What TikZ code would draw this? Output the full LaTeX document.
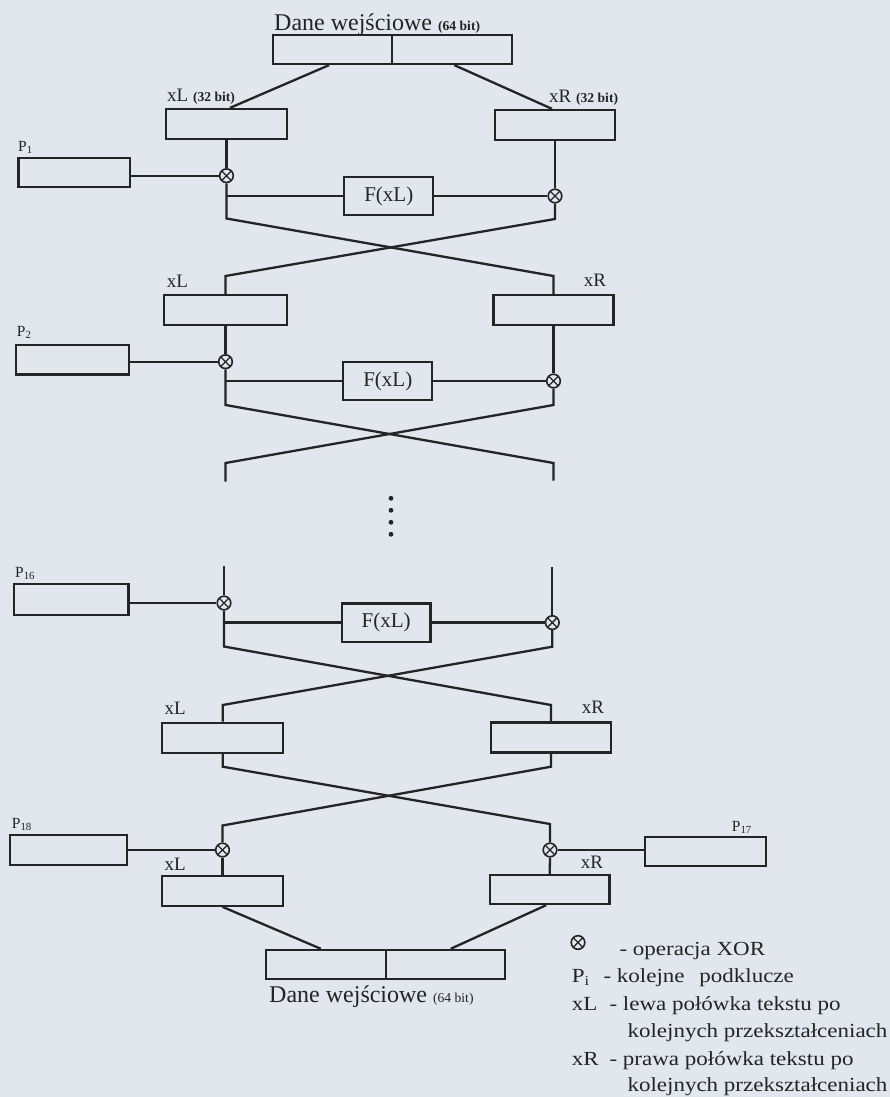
\documentclass[tikz,border=0pt]{standalone}
\usepackage{fontspec}
\setmainfont{Liberation Serif}
\newfontfamily\legendfont[FakeStretch=1.15]{Liberation Serif}
\definecolor{paper}{RGB}{226,230,237}
\definecolor{ink}{RGB}{36,36,38}
\newcommand\bitnote[1]{{\fontsize{13.6}{16}\selectfont\bfseries #1}}
\newcommand\bitnotelight[1]{{\fontsize{13.6}{16}\selectfont #1}}
\tikzset{
  wire/.style={draw=ink, line width=2.3},
  blk/.style={draw=ink, line width=2.3, rectangle, inner sep=0pt},
  xor/.style={circle, draw=ink, line width=1.6, minimum size=13.6, inner sep=0pt,
    path picture={\draw[ink, line width=1.3]
      (path picture bounding box.north west) -- (path picture bounding box.south east)
      (path picture bounding box.north east) -- (path picture bounding box.south west);}},
  lbl/.style={anchor=base west, inner sep=0pt, text=ink},
  ttl/.style={lbl, font=\fontsize{24}{28}\selectfont},
  fx/.style={font=\fontsize{21}{25}\selectfont, text=ink},
  halflbl/.style={lbl, font=\fontsize{19}{22}\selectfont},
  pkey/.style={lbl, font=\fontsize{15.5}{18}\selectfont},
  leg/.style={lbl, font=\legendfont\fontsize{20}{24}\selectfont},
}
\begin{document}
\begin{tikzpicture}[x=1pt,y=-1pt]
\path[use as bounding box, fill=paper] (0,0) rectangle (890,1097);

% ---------- input block ----------
\node[ttl] (intitle) at (274,30.7) {Dane wejściowe \bitnote{(64 bit)}};
\node[blk, minimum width=239, minimum height=29] (inbox) at (392.2,49.5) {};
\draw[wire] (inbox.north) -- (inbox.south);

% ---------- round 1 ----------
\node[blk, minimum width=121.6, minimum height=30] (xl1) at (226.5,124) {};
\node[blk, minimum width=120, minimum height=30] (xr1) at (555,125) {};
\node[halflbl] (xl1t) at (167,102) {xL \bitnote{(32 bit)}};
\node[halflbl] (xr1t) at (549,103) {xR \bitnote{(32 bit)}};
\draw[wire] ([xshift=57.5]inbox.south west) -- ([xshift=3.5]xl1.north);
\draw[wire] ([xshift=-58.5]inbox.south east) -- ([xshift=-3]xr1.north);

\node[blk, minimum width=111.7, minimum height=28.4] (p1) at (74.2,172.5) {};
\node[pkey] (p1t) at (18,151.7) {P\textsubscript{1}};
\node[xor] (xl1x) at (226.5,175.7) {};
\node[blk, fx, minimum width=89, minimum height=38] (f1) at (388.8,196) {F(xL)};
\node[xor] (xr1x) at (555,196) {};
\draw[wire] (xl1.south) -- (xl1x.north);
\draw[wire] (xr1.south) -- (xr1x.north);
\draw[wire] (p1.east |- xl1x) -- (xl1x.west);
\draw[wire] (f1.west -| xl1x) -- (f1.west);
\draw[wire] (f1.east) -- (xr1x.west);

% ---------- round 2 ----------
\node[blk, minimum width=122.4, minimum height=30] (xl2) at (225.5,310) {};
\node[blk, minimum width=120, minimum height=30] (xr2) at (553.5,310) {};
\node[halflbl] (xl2t) at (166.7,287.3) {xL};
\node[halflbl] (xr2t) at (583.6,286.7) {xR};

\coordinate (l1b) at (226.5,218.5);
\coordinate (r1b) at (555,219);
\coordinate (l2t) at (225.5,276);
\coordinate (r2t) at (553.5,276);
\draw[wire] (xl1x.south) -- (l1b) -- (r2t) -- (xr2.north);
\draw[wire] (xr1x.south) -- (r1b) -- (l2t) -- (xl2.north);

\node[blk, minimum width=113.6, minimum height=29.3] (p2) at (72.5,359.7) {};
\node[pkey] (p2t) at (16.7,336.7) {P\textsubscript{2}};
\node[xor] (xl2x) at (225.5,361.7) {};
\node[blk, fx, minimum width=89, minimum height=38] (f2) at (387.8,381) {F(xL)};
\node[xor] (xr2x) at (553.5,381) {};
\draw[wire] (xl2.south) -- (xl2x.north);
\draw[wire] (xr2.south) -- (xr2x.north);
\draw[wire] (p2.east |- xl2x) -- (xl2x.west);
\draw[wire] (f2.west -| xl2x) -- (f2.west);
\draw[wire] (f2.east) -- (xr2x.west);

\coordinate (l2b) at (225.5,405);
\coordinate (r2b) at (553.5,405);
\coordinate (l2r) at (553.5,463);
\coordinate (l2e) at (553.5,480.5);
\coordinate (r2l) at (225.5,463);
\coordinate (r2e) at (225.5,481.5);
\draw[wire] (xl2x.south) -- (l2b) -- (l2r) -- (l2e);
\draw[wire] (xr2x.south) -- (r2b) -- (r2l) -- (r2e);

% omitted rounds
\foreach \dy in {498.3,510.3,522.3,534.3}
  \fill[ink] (391,\dy) circle (2.4);

% ---------- round 16 ----------
\coordinate (l3s) at (224,566);
\coordinate (r3s) at (552.3,566.5);
\node[blk, minimum width=114.3, minimum height=31] (p16) at (71.2,599.2) {};
\node[pkey] (p16t) at (15,577.3) {P\textsubscript{16}};
\node[xor] (xl3x) at (224,603) {};
\node[blk, fx, minimum width=88.8, minimum height=38.4] (f3) at (386.1,622.6) {F(xL)};
\node[xor] (xr3x) at (552.3,622.6) {};
\draw[wire] (l3s) -- (xl3x.north);
\draw[wire] (r3s) -- (xr3x.north);
\draw[wire] (p16.east |- xl3x) -- (xl3x.west);
\draw[wire] (f3.west -| xl3x) -- (f3.west);
\draw[wire] (f3.east) -- (xr3x.west);

% ---------- final swap ----------
\node[blk, minimum width=121, minimum height=30] (xl4) at (222.8,737.7) {};
\node[blk, minimum width=120, minimum height=30] (xr4) at (551,737.5) {};
\node[halflbl] (xl4t) at (164.3,714.3) {xL};
\node[halflbl] (xr4t) at (581.7,713.3) {xR};
\coordinate (l3b) at (224,646.5);
\coordinate (r3b) at (552.3,646.7);
\coordinate (l4t) at (222.8,705);
\coordinate (r4t) at (551,705);
\draw[wire] (xl3x.south) -- (l3b) -- (r4t) -- (xr4.north);
\draw[wire] (xr3x.south) -- (r3b) -- (l4t) -- (xl4.north);

% ---------- output whitening (P17, P18) ----------
\node[xor] (xl5x) at (222.5,850) {};
\node[xor] (xr5x) at (550,850) {};
\coordinate (l4b) at (222.8,766.7);
\coordinate (r4b) at (551,766.7);
\coordinate (l5t) at (222.5,825.5);
\coordinate (r5t) at (550,824);
\draw[wire] (xl4.south) -- (l4b) -- (r5t) -- (xr5x.north);
\draw[wire] (xr4.south) -- (r4b) -- (l5t) -- (xl5x.north);

\node[blk, minimum width=116.7, minimum height=30] (p18) at (68.3,850) {};
\node[pkey] (p18t) at (11.7,828.3) {P\textsubscript{18}};
\node[blk, minimum width=121, minimum height=29.3] (p17) at (705.5,851.3) {};
\node[pkey] (p17t) at (731.7,831.7) {P\textsubscript{17}};
\draw[wire] (p18.east |- xl5x) -- (xl5x.west);
\draw[wire] (xr5x.east) -- (p17.west |- xr5x);

\node[blk, minimum width=121.6, minimum height=30] (xl5) at (222.5,890.7) {};
\node[blk, minimum width=119.3, minimum height=29] (xr5) at (549.7,889.5) {};
\node[halflbl] (xl5t) at (164.3,870) {xL};
\node[halflbl] (xr5t) at (580.7,868.3) {xR};
\draw[wire] (xl5x.south) -- (xl5.north);
\draw[wire] (xr5x.south) -- (xr5.north);

% ---------- output block ----------
\node[blk, minimum width=239, minimum height=29.3] (outbox) at (385.5,964.6) {};
\draw[wire] ([xshift=0.2]outbox.north) -- ([xshift=0.2]outbox.south);
\draw[wire] (xl5.south) -- ([xshift=56]outbox.north west);
\draw[wire] ([xshift=-3.5]xr5.south) -- ([xshift=-55.5]outbox.north east);
\node[ttl] (outtitle) at (269,1002.3) {Dane wejściowe \bitnotelight{(64 bit)}};

% ---------- legend ----------
\node[xor] (legx) at (578,942.5) {};
\node[leg] (leg1) at (619.3,955) {- operacja XOR};
\node[leg] (leg2a) at (571.7,982.5) {P\textsubscript{i}};
\node[leg] (leg2) at (603.3,982.5) {- kolejne\hspace{0.45em} podklucze};
\node[leg] (leg3a) at (571.7,1010.7) {xL};
\node[leg] (leg3) at (609.3,1010.7) {- lewa połówka tekstu po};
\node[leg] (leg3b) at (627.3,1037.5) {kolejnych przekształceniach};
\node[leg] (leg4a) at (571.7,1065.5) {xR};
\node[leg] (leg4) at (609.3,1065.5) {- prawa połówka tekstu po};
\node[leg] (leg4b) at (627.3,1091.5) {kolejnych przekształceniach};
\end{tikzpicture}
\end{document}
